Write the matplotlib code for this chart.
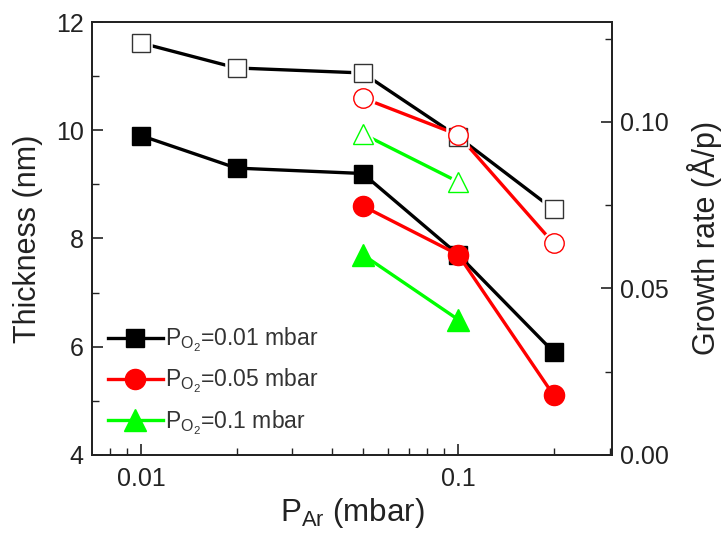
import matplotlib
matplotlib.use("Agg")
import matplotlib.pyplot as plt
from matplotlib.ticker import FixedLocator, NullFormatter, MultipleLocator, FormatStrFormatter

plt.rcParams['font.family'] = ['Liberation Sans', 'DejaVu Sans']
plt.rcParams['mathtext.fontset'] = 'custom'
plt.rcParams['mathtext.rm'] = 'Liberation Sans'
plt.rcParams['mathtext.it'] = 'Liberation Sans'

# Data
p_ar_001 = [0.01, 0.02, 0.05, 0.1, 0.2]
p_ar_005 = [0.05, 0.1, 0.2]
p_ar_01 = [0.05, 0.1]

thick_001 = [9.9, 9.3, 9.2, 7.7, 5.9]
thick_005 = [8.6, 7.7, 5.1]
thick_01 = [7.7, 6.5]

rate_001 = [0.1237, 0.1162, 0.1147, 0.0955, 0.0737]
rate_005 = [0.1072, 0.0961, 0.0635]
rate_01 = [0.0964, 0.0820]

labels = [r'P$_{\mathregular{O}_{\mathregular{2}}}$=0.01 mbar',
          r'P$_{\mathregular{O}_{\mathregular{2}}}$=0.05 mbar',
          r'P$_{\mathregular{O}_{\mathregular{2}}}$=0.1 mbar']

black = '#000000'
red = '#ff0000'
green = '#00ff00'
axcol = '#222222'

fig = plt.figure(figsize=(7.24, 5.37), dpi=100)
ax = fig.add_axes([0.127, 0.153, 0.718, 0.806])
ax2 = ax.twinx()

lw = 2.4
# growth-rate (open) on right axis: lines, then white halo, then open markers
open_series = [
    (p_ar_001, rate_001, black, 's', 12.5, '#333333'),
    (p_ar_005, rate_005, red, 'o', 14, red),
    (p_ar_01, rate_01, green, '^', 15, green),
]
for xs, ys, c, m, ms, ec in open_series:
    ax2.plot(xs, ys, '-', color=c, lw=lw, zorder=2)
for xs, ys, c, m, ms, ec in open_series:
    ax2.plot(xs, ys, ls='none', marker=m, ms=ms, mfc='white', mec='white',
             mew=4.0, zorder=3)
    ax2.plot(xs, ys, ls='none', marker=m, ms=ms, mfc='white', mec=ec,
             mew=1.0, zorder=4)

# thickness (filled) on left axis
h1, = ax.plot(p_ar_001, thick_001, '-', color=black, lw=lw, marker='s', ms=13.5,
              mfc=black, mec=black, label=labels[0], zorder=3)
h2, = ax.plot(p_ar_005, thick_005, '-', color=red, lw=lw, marker='o', ms=14.5,
              mfc=red, mec=red, label=labels[1], zorder=3)
h3, = ax.plot(p_ar_01, thick_01, '-', color=green, lw=lw, marker='^', ms=15.5,
              mfc=green, mec=green, label=labels[2], zorder=3)

ax.set_zorder(ax2.get_zorder() + 1)
ax.patch.set_visible(False)

ax.set_xscale('log')
ax.set_xlim(0.007, 0.305)
ax.set_ylim(4, 12)
ax2.set_ylim(0, 0.13)

ax.xaxis.set_major_locator(FixedLocator([0.01, 0.1]))
ax.set_xticklabels(['0.01', '0.1'])
ax.xaxis.set_minor_locator(FixedLocator([0.008, 0.009, 0.02, 0.03, 0.04, 0.05, 0.06,
                                         0.07, 0.08, 0.09, 0.2, 0.3]))
ax.xaxis.set_minor_formatter(NullFormatter())

ax.yaxis.set_major_locator(MultipleLocator(2))
ax.yaxis.set_minor_locator(MultipleLocator(1))
ax2.yaxis.set_major_locator(MultipleLocator(0.05))
ax2.yaxis.set_minor_locator(MultipleLocator(0.025))
ax2.yaxis.set_major_formatter(FormatStrFormatter('%.2f'))

for a in (ax, ax2):
    for s in a.spines.values():
        s.set_linewidth(1.3)
        s.set_color(axcol)
    a.tick_params(which='major', direction='in', length=8, width=1.2,
                  labelsize=18, colors=axcol, pad=6)
    a.tick_params(which='minor', direction='in', length=5, width=1.0, colors=axcol)
ax.tick_params(axis='x', which='major', pad=9)
ax.tick_params(axis='y', which='both', right=False)
ax2.tick_params(axis='y', which='both', left=False)

ax.set_xlabel(r'P$_{\mathregular{Ar}}$ (mbar)', fontsize=22.5, color=axcol, labelpad=3)
ax.set_ylabel('Thickness (nm)', fontsize=22, color=axcol, labelpad=9)
ax2.set_ylabel('Growth rate (Å/p)', fontsize=22, color=axcol, labelpad=13)

leg = ax.legend(handles=[h1, h2, h3], loc='lower left', bbox_to_anchor=(0.0, 0.005),
                frameon=False, fontsize=16.5, handlelength=2.4, handletextpad=0.1,
                labelspacing=0.55, borderaxespad=0.3)
for t in leg.get_texts():
    t.set_color('#333333')

fig.savefig('out.png', dpi=100)
